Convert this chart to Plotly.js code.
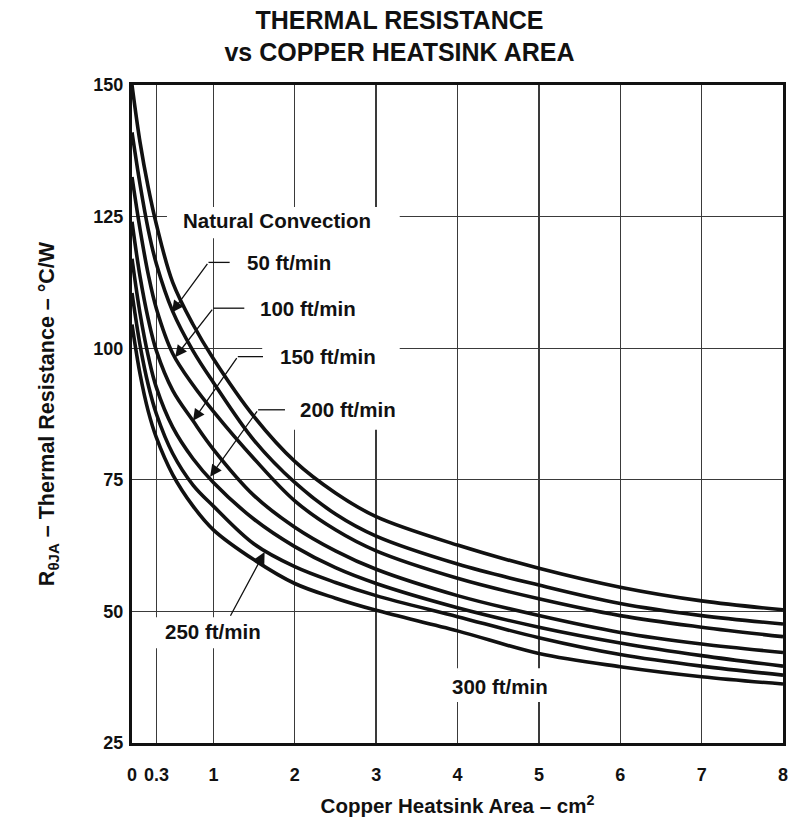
<!DOCTYPE html>
<html>
<head>
<meta charset="utf-8">
<script src="https://cdn.plot.ly/plotly-3.0.1.min.js"></script>
<style>html,body{margin:0;padding:0;background:#fff;}#chart{width:791px;height:828px;}</style>
</head>
<body>
<div id="chart"></div>
<script>
// Copper heatsink area, cm^2
const areaCm2 = [0, 0.1, 0.2, 0.3, 0.5, 0.75, 1, 1.5, 2, 2.5, 3, 4, 5, 6, 7, 8];
// Thermal resistance R_thetaJA (°C/W) for each airflow
const naturalConvection = [150, 139, 130.5, 123.5, 112.5, 104.5, 98, 87, 78.5, 72.5, 68, 62.6, 58.2, 54.6, 52, 50.3];
const flow50  = [141, 131, 122.5, 116, 107, 99.5, 93.5, 82.5, 74.5, 68.5, 64.3, 59, 55, 51.5, 49.2, 47.6];
const flow100 = [132.5, 122.5, 114, 107.5, 99, 93, 88, 79, 71, 65.5, 61.5, 56.3, 52.4, 49.2, 47, 45.2];
const flow150 = [124, 113.5, 105.5, 99.5, 92, 86.2, 80.8, 72, 66, 61.5, 58, 53, 49.2, 46, 43.8, 42.2];
const flow200 = [117, 106.5, 98.5, 92.5, 85, 79, 74.5, 67.5, 62.3, 58.3, 55.3, 50.7, 47, 44, 41.6, 39.6];
const flow250 = [110.5, 100.5, 93, 87.5, 80, 74, 70, 62.8, 58.5, 55.5, 53, 49, 45, 41.8, 39.6, 37.9];
const flow300 = [104.5, 95, 88, 83, 76, 70, 65.5, 59.8, 55.3, 52.5, 50.2, 46.3, 42, 39.5, 37.6, 36.2];

const seriesNames = ['Natural Convection', '50 ft/min', '100 ft/min', '150 ft/min', '200 ft/min', '250 ft/min', '300 ft/min'];
const seriesValues = [naturalConvection, flow50, flow100, flow150, flow200, flow250, flow300];

const xTickVals = [0, 0.3, 1, 2, 3, 4, 5, 6, 7, 8];
const xTickText = ['0', '0.3', '1', '2', '3', '4', '5', '6', '7', '8'];
const yTickVals = [25, 50, 75, 100, 125, 150];

const FONT = 'Liberation Sans, Arial, Helvetica, sans-serif';

const traces = seriesValues.map((vals, i) => ({
  type: 'scatter', mode: 'lines', name: seriesNames[i],
  x: areaCm2, y: vals,
  line: {color: '#111', width: 3.6, shape: 'spline', smoothing: 1},
  hoverinfo: 'x+y+name'
}));

// label placement (data coords)
const labels = [
  {t: 'Natural Convection', x: 1.78, y: 124.2},
  {t: '50 ft/min', x: 1.93, y: 116.2},
  {t: '100 ft/min', x: 2.16, y: 107.6},
  {t: '150 ft/min', x: 2.41, y: 98.5},
  {t: '200 ft/min', x: 2.65, y: 88.3},
  {t: '250 ft/min', x: 1.0, y: 46.1},
  {t: '300 ft/min', x: 4.52, y: 35.7}
];
const annotations = labels.map(l => ({
  text: l.t, x: l.x, y: l.y, xref: 'x', yref: 'y', showarrow: false,
  font: {family: FONT, size: 20.5, color: '#111', weight: 'bold'}
}));
// arrows: tip (x,y) ; tail (ax,ay)
const arrows = [
  {x: 0.49, y: 106.8, ax: 0.94, ay: 116.3},
  {x: 0.53, y: 98.3, ax: 1.00, ay: 107.6},
  {x: 0.75, y: 86.2, ax: 1.30, ay: 98.4},
  {x: 0.96, y: 75.6, ax: 1.55, ay: 88.3},
  {x: 1.63, y: 61.3, ax: 1.20, ay: 48.9}
];
arrows.forEach(a => annotations.push({
  text: '', x: a.x, y: a.y, ax: a.ax, ay: a.ay, xref: 'x', yref: 'y', axref: 'x', ayref: 'y',
  showarrow: true, arrowhead: 2, arrowsize: 1.8, arrowwidth: 1.3, arrowcolor: '#111', standoff: 0, startstandoff: 0
}));

const shapes = [];
// white masks hiding grid lines behind labels
const masks = [
  [0.43, 3.19, 120.9, 126.8],
  [1.60, 3.29, 84.5, 126.8],
  [0.25, 1.76, 43.0, 48.9],
  [3.78, 5.28, 32.8, 39.2]
];
masks.forEach(m => shapes.push({type: 'rect', layer: 'between', xref: 'x', yref: 'y',
  x0: m[0], x1: m[1], y0: m[2], y1: m[3], fillcolor: '#fff', line: {width: 0}}));
// horizontal leader segments
const leaders = [
  [0.94, 1.20, 116.3],
  [1.00, 1.38, 107.6],
  [1.30, 1.61, 98.4],
  [1.55, 1.88, 88.3]
];
leaders.forEach(l => shapes.push({type: 'line', layer: 'above', xref: 'x', yref: 'y',
  x0: l[0], x1: l[1], y0: l[2], y1: l[2], line: {color: '#111', width: 1.3}}));

const layout = {
  width: 791, height: 828,
  margin: {l: 132, r: 8, t: 85, b: 85},
  paper_bgcolor: '#fff', plot_bgcolor: '#fff',
  font: {family: FONT, color: '#111', size: 17, weight: 'bold'},
  showlegend: false,
  title: {
    text: 'THERMAL RESISTANCE<br>vs COPPER HEATSINK AREA',
    font: {family: FONT, size: 25, color: '#111', weight: 'bold'},
    xref: 'container', x: 0.505, xanchor: 'center',
    yref: 'container', y: 0.9655, yanchor: 'top'
  },
  xaxis: {
    range: [0, 8], tickmode: 'array', tickvals: xTickVals, ticktext: xTickText,
    showgrid: true, gridcolor: '#3a3a3a', gridwidth: 1.3, zeroline: false,
    showline: true, mirror: true, linecolor: '#111', linewidth: 3,
    ticks: '', ticklabelstandoff: 13,
    tickfont: {family: FONT, size: 18, color: '#111', weight: 'bold'},
    title: {text: 'Copper Heatsink Area – cm<sup>2</sup>', standoff: 16,
      font: {family: FONT, size: 20.5, color: '#111', weight: 'bold'}},
    fixedrange: true
  },
  yaxis: {
    range: [25, 150], tickmode: 'array', tickvals: yTickVals,
    showgrid: true, gridcolor: '#3a3a3a', gridwidth: 1.3, zeroline: false,
    showline: true, mirror: true, linecolor: '#111', linewidth: 3,
    ticks: '', ticklabelstandoff: 2,
    tickfont: {family: FONT, size: 18, color: '#111', weight: 'bold'},
    title: {text: 'R<sub>θJA</sub> – Thermal Resistance – °C/W', standoff: 33,
      font: {family: FONT, size: 21.5, color: '#111', weight: 'bold'}},
    fixedrange: true
  },
  annotations: annotations,
  shapes: shapes
};

Plotly.newPlot('chart', traces, layout, {displayModeBar: false, staticPlot: true});
</script>
</body>
</html>
